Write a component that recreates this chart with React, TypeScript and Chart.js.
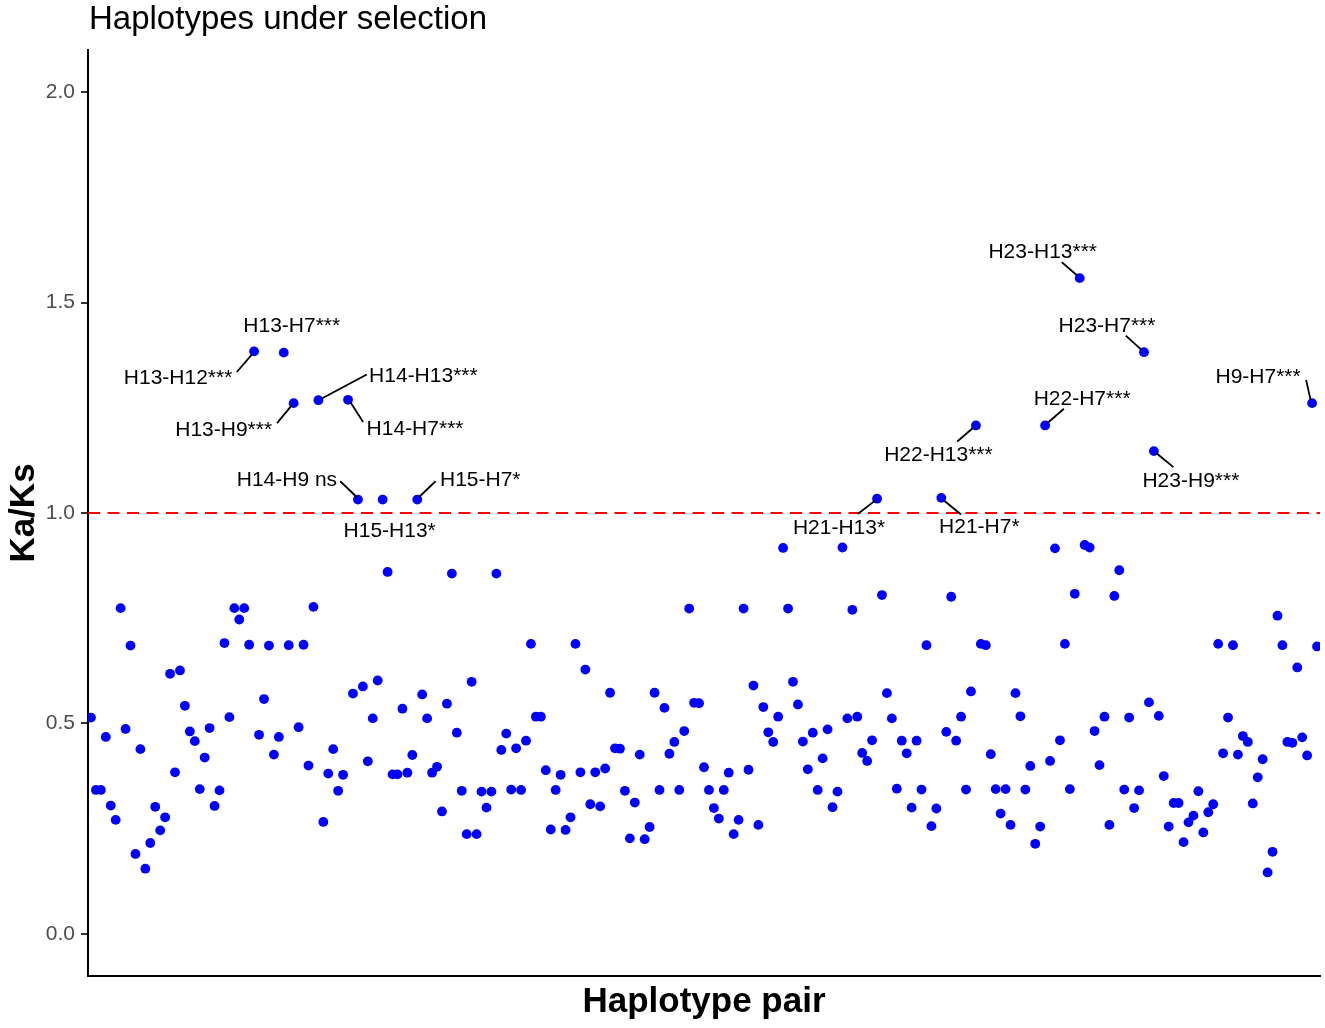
import { useEffect, useRef } from 'react';
import { Chart, registerables, Plugin } from 'chart.js';

Chart.register(...registerables);

const FONT = '"Liberation Sans", Arial, Helvetica, sans-serif';

// haplotype names; pairs are "Hi-Hj" (i > j), sorted as text like the R factor
const haplotypes = [
	'H1', 'H2', 'H3', 'H4', 'H5', 'H6', 'H7', 'H8', 'H9', 'H10', 'H11', 'H12',
	'H13', 'H14', 'H15', 'H16', 'H17', 'H18', 'H19', 'H20', 'H21', 'H22', 'H23'
];
// the figure has 249 points for 253 pairs; which four are absent is a guess
const missingPairs = ['H23-H16', 'H23-H19', 'H4-H3', 'H6-H5'];

// Ka/Ks per pair, in x order
const kaks = [
	0.514, 0.342, 0.342, 0.468, 0.305, 0.271, 0.774, 0.487, 0.685, 0.190,
	0.439, 0.155, 0.216, 0.302, 0.246, 0.277, 0.618, 0.384, 0.626, 0.542,
	0.481, 0.458, 0.344, 0.419, 0.489, 0.304, 0.341, 0.691, 0.515, 0.774,
	0.747, 0.774, 0.687, 1.384, 0.473, 0.558, 0.685, 0.426, 0.468, 1.381,
	0.686, 1.261, 0.491, 0.687, 0.400, 0.777, 1.268, 0.266, 0.381, 0.439,
	0.340, 0.378, 1.269, 0.571, 1.032, 0.588, 0.410, 0.512, 0.602, 1.032,
	0.860, 0.379, 0.379, 0.535, 0.383, 0.425, 1.032, 0.569, 0.512, 0.383,
	0.397, 0.291, 0.547, 0.856, 0.478, 0.340, 0.237, 0.599, 0.237, 0.338,
	0.300, 0.338, 0.856, 0.437, 0.476, 0.343, 0.441, 0.342, 0.459, 0.689,
	0.516, 0.516, 0.389, 0.248, 0.342, 0.378, 0.247, 0.277, 0.689, 0.384,
	0.628, 0.308, 0.384, 0.303, 0.393, 0.573, 0.441, 0.440, 0.340, 0.227,
	0.312, 0.426, 0.225, 0.254, 0.573, 0.342, 0.537, 0.428, 0.456, 0.342,
	0.482, 0.773, 0.549, 0.548, 0.396, 0.342, 0.299, 0.274, 0.342, 0.383,
	0.237, 0.271, 0.773, 0.390, 0.590, 0.259, 0.539, 0.479, 0.456, 0.516,
	0.917, 0.773, 0.599, 0.545, 0.457, 0.391, 0.478, 0.342, 0.417, 0.486,
	0.301, 0.338, 0.918, 0.512, 0.770, 0.516, 0.430, 0.411, 0.460, 1.034,
	0.805, 0.572, 0.512, 0.345, 0.459, 0.429, 0.300, 0.459, 0.343, 0.686,
	0.256, 0.298, 1.036, 0.480, 0.801, 0.459, 0.516, 0.343, 0.576, 1.208,
	0.689, 0.686, 0.427, 0.344, 0.286, 0.344, 0.259, 0.572, 0.517, 0.343,
	0.399, 0.214, 0.255, 1.208, 0.411, 0.916, 0.460, 0.689, 0.344, 0.808,
	1.558, 0.924, 0.918, 0.482, 0.401, 0.516, 0.259, 0.803, 0.864, 0.343,
	0.514, 0.299, 0.341, 1.382, 0.550, 1.147, 0.518, 0.375, 0.255, 0.311,
	0.311, 0.218, 0.265, 0.281, 0.339, 0.241, 0.289, 0.308, 0.689, 0.429,
	0.514, 0.686, 0.426, 0.470, 0.456, 0.310, 0.372, 0.415, 0.146, 0.195,
	0.756, 0.686, 0.456, 0.454, 0.633, 0.467, 0.424, 1.261, 0.683
];

const yTicks = [0, 0.5, 1, 1.5, 2];
const neutral = 1;

// labelled pairs and their significance marks
const labelPairs = [
	'H13-H12', 'H13-H7', 'H13-H9', 'H14-H13', 'H14-H7', 'H14-H9', 'H15-H13', 'H15-H7',
	'H21-H13', 'H21-H7', 'H22-H13', 'H22-H7', 'H23-H13', 'H23-H7', 'H23-H9', 'H9-H7'
];
const labelMarks = [
	'***', '***', '***', '***', '***', ' ns', '*', '*',
	'*', '*', '***', '***', '***', '***', '***', '***'
];

// where each label sits relative to its point (px): text centre, then leader segment
const labelPlacement: { dx: number, dy: number, seg: number[] | null }[] = [
	{ dx: -76, dy: 25, seg: [-2.3, 3.3, -17.3, 20.6] },
	{ dx: 8, dy: -28, seg: null },
	{ dx: -70, dy: 25, seg: [-1.6, 1.7, -16.6, 20] },
	{ dx: 105, dy: -26, seg: [3.4, -1.7, 48.4, -25.7] },
	{ dx: 67, dy: 28, seg: [2.3, 2.3, 15, 22.3] },
	{ dx: -71, dy: -21, seg: [-1, -2.3, -17.7, -18.3] },
	{ dx: 7, dy: 30, seg: null },
	{ dx: 63, dy: -21, seg: [1.6, -2.3, 18.3, -18.3] },
	{ dx: -38, dy: 28, seg: [-1.7, 1.7, -19.3, 15.3] },
	{ dx: 38, dy: 28, seg: [2.4, 2.4, 19.7, 16.7] },
	{ dx: -37.5, dy: 28, seg: [-3, 2.6, -18.7, 16] },
	{ dx: 37, dy: -28, seg: [2.4, -2.4, 18.8, -16.7] },
	{ dx: -37, dy: -28, seg: [-2.6, -2.6, -18, -16] },
	{ dx: -37, dy: -28, seg: [-2.5, -2.3, -18.2, -16.6] },
	{ dx: 37, dy: 28, seg: [2, 1.6, 19.5, 16] },
	{ dx: -54, dy: -28, seg: [-1.5, -3.3, -6, -23.3] },
];

const allPairs: string[] = [];
haplotypes.forEach((a, i) => {
	haplotypes.forEach((b, j) => {
		if (j < i) allPairs.push(`${a}-${b}`);
	});
});
allPairs.sort();
const pairs = allPairs.filter(p => !missingPairs.includes(p));

const annotate: Plugin = {
	id: 'annotate',
	afterDraw(chart) {
		const { ctx, chartArea } = chart;
		const x = chart.scales.x;
		const y = chart.scales.y;
		ctx.save();
		ctx.fillStyle = '#000000';
		ctx.strokeStyle = '#000000';

		// point labels
		ctx.font = `21px ${FONT}`;
		ctx.textAlign = 'center';
		ctx.textBaseline = 'alphabetic';
		ctx.lineWidth = 1.8;
		labelPairs.forEach((pair, k) => {
			const idx = pairs.indexOf(pair);
			if (idx < 0) return;
			const px = x.getPixelForValue(idx);
			const py = y.getPixelForValue(kaks[idx]);
			const pl = labelPlacement[k];
			if (pl.seg) {
				ctx.beginPath();
				ctx.moveTo(px + pl.seg[0], py + pl.seg[1]);
				ctx.lineTo(px + pl.seg[2], py + pl.seg[3]);
				ctx.stroke();
			}
			ctx.fillText(pair + labelMarks[k], px + pl.dx, py + pl.dy + 7.5);
		});

		// title
		ctx.font = `33px ${FONT}`;
		ctx.textAlign = 'left';
		ctx.fillText('Haplotypes under selection', chartArea.left + 1, chartArea.top - 21);

		// axis titles
		ctx.font = `bold 35px ${FONT}`;
		ctx.textAlign = 'center';
		ctx.fillText('Haplotype pair', (chartArea.left + chartArea.right) / 2, chartArea.bottom + 36);
		ctx.translate(34, (chartArea.top + chartArea.bottom) / 2);
		ctx.rotate(-Math.PI / 2);
		ctx.fillText('Ka/Ks', 0, 0);
		ctx.restore();
	}
};

export default function App() {
	const canvasRef = useRef<HTMLCanvasElement | null>(null);

	useEffect(() => {
		if (!canvasRef.current) return;
		const n = pairs.length;
		const chart = new Chart(canvasRef.current, {
			type: 'scatter',
			data: {
				labels: pairs,
				datasets: [
					{
						type: 'line',
						data: [{ x: -0.6, y: neutral }, { x: n - 0.4, y: neutral }],
						borderColor: '#FF0000',
						borderWidth: 2.2,
						borderDash: [12, 7.5],
						pointRadius: 0,
						fill: false,
					},
					{
						type: 'scatter',
						data: kaks.map((v, i) => ({ x: i, y: v })),
						backgroundColor: '#0000FF',
						pointRadius: 4.9,
						pointHoverRadius: 4.9,
						borderWidth: 0,
					}
				]
			},
			options: {
				animation: false,
				responsive: false,
				maintainAspectRatio: false,
				layout: { padding: { top: 50, right: 5, left: 0, bottom: 0 } },
				plugins: {
					legend: { display: false },
					title: { display: false },
					tooltip: { enabled: false },
				},
				scales: {
					x: {
						type: 'linear',
						min: -0.6,
						max: n - 0.4,
						grid: { display: false },
						ticks: { display: false },
						border: { display: true, color: '#000000', width: 2 },
						afterFit: (s: any) => { s.height = 52; },
					},
					y: {
						type: 'linear',
						min: -0.1,
						max: 2.1,
						afterBuildTicks: (s: any) => { s.ticks = yTicks.map(v => ({ value: v })); },
						ticks: {
							color: '#4D4D4D',
							font: { size: 21, family: FONT },
							padding: 6,
							callback: (v: any) => Number(v).toFixed(1),
						},
						grid: {
							display: true,
							drawOnChartArea: false,
							drawTicks: true,
							tickLength: 7,
							color: '#333333',
							lineWidth: 2,
						},
						border: { display: true, color: '#000000', width: 2 },
						afterFit: (s: any) => { s.width = 88; },
					}
				}
			},
			plugins: [annotate]
		});
		return () => {
			chart.destroy();
		};
	}, []);

	return (
		<div style={{ position: 'absolute', left: 0, top: 0, width: 1325, height: 1028, background: '#ffffff' }}>
			<canvas ref={canvasRef} width={1325} height={1028} />
		</div>
	);
}
